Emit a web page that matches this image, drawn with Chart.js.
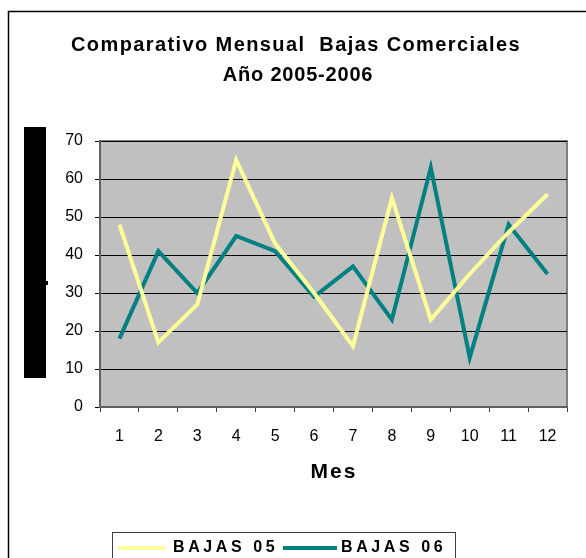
<!DOCTYPE html>
<html lang="es">
<head>
<meta charset="utf-8">
<title>Comparativo Mensual Bajas Comerciales</title>
<script src="https://cdn.jsdelivr.net/npm/chart.js@4/dist/chart.umd.min.js"></script>
<style>
    html, body { margin: 0; padding: 0; background: #fff; }
    canvas { display: block; }
</style>
</head>
<body>
<canvas id="bajasChart" width="586" height="558"></canvas>
<script>
// Datos
const meses = ['1', '2', '3', '4', '5', '6', '7', '8', '9', '10', '11', '12'];
const bajas05 = [48, 17, 27, 65, 43, 30, 16, 55, 23, 35, 46, 56];
const bajas06 = [18, 41, 30, 45, 41, 29, 37, 23, 63, 13, 48, 35];
const etiquetasSeries = ['BAJAS 05', 'BAJAS 06'];
const tituloLineas = ['Comparativo Mensual  Bajas Comerciales', 'Año 2005-2006'];
const tituloEjeX = 'Mes';

const FUENTE = '"Liberation Sans", Arial, sans-serif';

document.addEventListener('DOMContentLoaded', function () {
    const ctx = document.getElementById('bajasChart');

    // Colores tipo Excel
    const colores = {
        b05: '#FFFF99',
        b06: '#008080',
        fondo: '#C0C0C0'
    };

    // Fondo gris del área de trazado + recuadro
    const fondoPlugin = {
        id: 'fondoPlugin',
        beforeDraw(chart) {
            const c = chart.ctx;
            const a = chart.chartArea;
            c.save();
            c.fillStyle = '#fff';
            c.fillRect(0, 0, chart.width, chart.height);
            c.fillStyle = colores.fondo;
            c.fillRect(a.left, a.top, a.right - a.left, a.bottom - a.top);
            c.strokeStyle = '#808080';
            c.lineWidth = 2;
            c.beginPath();
            c.moveTo(a.left, a.top);
            c.lineTo(a.right, a.top);
            c.lineTo(a.right, a.bottom);
            c.stroke();
            c.restore();
        }
    };

    // Títulos, leyenda, marco exterior y bloque negro del eje Y
    const extrasPlugin = {
        id: 'extrasPlugin',
        afterDraw(chart) {
            const c = chart.ctx;
            c.save();

            // marco exterior
            c.strokeStyle = '#000';
            c.lineWidth = 1.5;
            c.beginPath();
            c.moveTo(8.5, chart.height);
            c.lineTo(8.5, 11.5);
            c.lineTo(chart.width, 11.5);
            c.stroke();

            // bloque negro sobre el título del eje Y
            c.fillStyle = '#000';
            c.fillRect(24, 127, 22, 251);
            c.fillRect(46, 281, 2, 4);

            // título
            c.fillStyle = '#000';
            c.textAlign = 'center';
            c.textBaseline = 'alphabetic';
            c.font = 'bold 20px ' + FUENTE;
            c.letterSpacing = '1.4px';
            c.fillText(tituloLineas[0], 296, 51);
            c.letterSpacing = '0.8px';
            c.fillText(tituloLineas[1], 298, 81);

            // título eje X
            c.font = 'bold 21px ' + FUENTE;
            c.letterSpacing = '2px';
            c.fillText(tituloEjeX, 334, 478);

            // leyenda
            c.letterSpacing = '0px';
            c.fillStyle = '#fff';
            c.fillRect(112.5, 532.5, 343, 40);
            c.strokeStyle = '#404040';
            c.lineWidth = 1;
            c.strokeRect(112.5, 532.5, 343, 40);

            const items = [
                { x1: 118, x2: 165, tx: 173 },
                { x1: 283, x2: 337, tx: 341 }
            ];
            c.font = 'bold 16px ' + FUENTE;
            c.textAlign = 'left';
            c.letterSpacing = '3.6px';
            chart.data.datasets.forEach(function (ds, i) {
                const it = items[i];
                c.strokeStyle = ds.borderColor;
                c.lineWidth = 4;
                c.beginPath();
                c.moveTo(it.x1, 548);
                c.lineTo(it.x2, 548);
                c.stroke();
                c.fillStyle = '#000';
                c.fillText(ds.label, it.tx, 552);
            });

            c.restore();
        }
    };

    new Chart(ctx, {
        type: 'line',
        data: {
            labels: meses,
            datasets: [{
                label: etiquetasSeries[0],
                data: bajas05,
                borderColor: colores.b05,
                borderWidth: 4,
                pointRadius: 0,
                tension: 0
            }, {
                label: etiquetasSeries[1],
                data: bajas06,
                borderColor: colores.b06,
                borderWidth: 4,
                pointRadius: 0,
                tension: 0
            }]
        },
        options: {
            responsive: false,
            animation: false,
            devicePixelRatio: 1,
            layout: {
                padding: { top: 141, right: 19, bottom: 0, left: 0 }
            },
            plugins: {
                legend: { display: false },
                title: { display: false },
                tooltip: { enabled: false }
            },
            scales: {
                x: {
                    offset: true,
                    grid: {
                        offset: true,
                        drawOnChartArea: false,
                        drawTicks: true,
                        tickLength: 5,
                        color: '#404040'
                    },
                    border: { color: '#606060', width: 2 },
                    ticks: {
                        color: '#000',
                        font: { family: FUENTE, size: 16 },
                        padding: 15,
                        maxRotation: 0,
                        autoSkip: false
                    },
                    afterFit: function (scale) { scale.height = 151; }
                },
                y: {
                    min: 0,
                    max: 70,
                    grid: {
                        color: '#000',
                        lineWidth: 1,
                        drawTicks: true,
                        tickLength: 5
                    },
                    border: { color: '#606060', width: 2 },
                    ticks: {
                        stepSize: 10,
                        color: '#000',
                        font: { family: FUENTE, size: 16 },
                        padding: 12
                    },
                    afterFit: function (scale) { scale.width = 100; }
                }
            }
        },
        plugins: [fondoPlugin, extrasPlugin]
    });
});
</script>
</body>
</html>
